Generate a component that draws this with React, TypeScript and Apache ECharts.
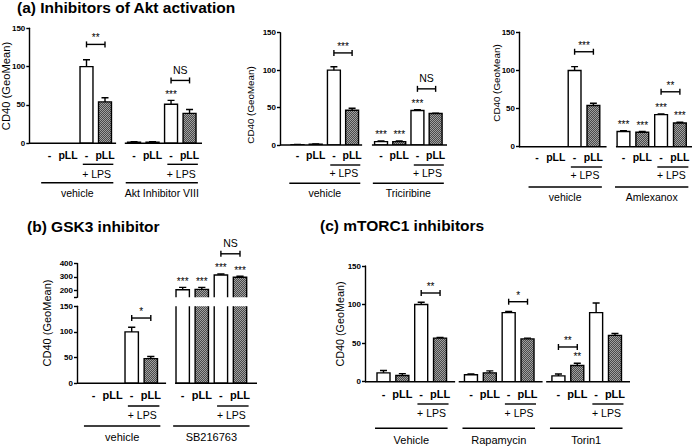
import React, { useEffect, useRef } from 'react';
import * as echarts from 'echarts';

const FONT = '"Liberation Sans", Arial, Helvetica, sans-serif';

// ---------------- shared labels ----------------
const conditionLabels = ['-', 'pLL', '-', 'pLL'];
const hatchedFlags = [0, 1, 0, 1];
const lpsLabel = '+ LPS';
const yAxisName = 'CD40 (GeoMean)';
const panelTitles = ['(a) Inhibitors of Akt activation', '(b) GSK3 inhibitor', '(c) mTORC1 inhibitors'];
const ticks150 = [0, 50, 100, 150];
const gskUpperTicks = [200, 300, 400];
const gskUpperTickMarks = [150, 200, 300, 400];

// ---------------- (a) Akt Inhibitor VIII ----------------
const aktGroups = ['vehicle', 'Akt Inhibitor VIII'];
const aktMeans = [[0, 0, 100, 54], [1.5, 1.5, 51, 39]];
const aktErrors = [[0, 0, 9, 5.5], [0.5, 0.5, 5, 5]];
const aktBrackets = [
  { group: 0, from: 2, to: 3, level: 129, label: '**' },
  { group: 1, from: 2, to: 3, level: 82, label: 'NS' },
];
const aktStars = [{ group: 1, bar: 2, label: '***' }];

// ---------------- (a) Triciribine ----------------
const triGroups = ['vehicle', 'Triciribine'];
const triMeans = [[0.5, 1, 100, 46.5], [4.5, 4.5, 46, 42]];
const triErrors = [[0.3, 0.3, 4.5, 2.5], [1, 1, 1, 0.5]];
const triBrackets = [
  { group: 0, from: 2, to: 3, level: 123, label: '***' },
  { group: 1, from: 2, to: 3, level: 75, label: 'NS' },
];
const triStars = [
  { group: 1, bar: 0, label: '***' },
  { group: 1, bar: 1, label: '***' },
  { group: 1, bar: 2, label: '***' },
];

// ---------------- (a) Amlexanox ----------------
const amlGroups = ['vehicle', 'Amlexanox'];
const amlMeans = [[0, 0, 100, 54], [20, 19, 42, 31]];
const amlErrors = [[0, 0, 5, 3], [1, 1, 1, 1]];
const amlBrackets = [
  { group: 0, from: 2, to: 3, level: 124.5, label: '***' },
  { group: 1, from: 2, to: 3, level: 72, label: '**' },
];
const amlStars = [
  { group: 1, bar: 0, label: '***' },
  { group: 1, bar: 1, label: '***' },
  { group: 1, bar: 2, label: '***' },
  { group: 1, bar: 3, label: '***' },
];

// ---------------- (b) GSK3 inhibitor ----------------
const gskGroups = ['vehicle', 'SB216763'];
const gskMeans = [[0, 0, 100, 48], [205, 208, 315, 298]];
const gskErrors = [[0, 0, 9, 4], [18, 15, 7, 7]];
const gskBrackets = [
  { group: 0, from: 2, to: 3, level: 127, label: '*' },
  { group: 1, from: 2, to: 3, level: 472, label: 'NS' },
];
const gskStars = [
  { group: 1, bar: 0, label: '***' },
  { group: 1, bar: 1, label: '***' },
  { group: 1, bar: 2, label: '***' },
  { group: 1, bar: 3, label: '***' },
];

// ---------------- (c) mTORC1 inhibitors ----------------
const mtorGroups = ['Vehicle', 'Rapamycin', 'Torin1'];
const mtorMeans = [[11.5, 8, 100, 56.5], [9, 11.5, 89.5, 55.5], [7.5, 21, 89.5, 60]];
const mtorErrors = [[3, 2.5, 3, 1], [1, 2.5, 1.5, 1], [2.5, 3, 12.5, 2.5]];
const mtorBrackets = [
  { group: 0, from: 2, to: 3, level: 115, label: '**' },
  { group: 1, from: 2, to: 3, level: 103.7, label: '*' },
  { group: 2, from: 0, to: 1, level: 45, label: '**' },
];
const mtorStars = [{ group: 2, bar: 1, label: '**' }];

// ---------------- layout (positions only) ----------------
type Layout = {
  left: number; right: number; top: number; bottom: number;
  firstBar: number; slot: number; groupStep: number; barW: number;
  segPad: [number, number]; groupPad: [number, number];
  dy: number[]; condFont: number; lpsFont: number; groupFont: number; tickFont: number;
  upper?: { top: number; bottom: number; min: number };
};

const layA1: Layout = { left: 29.3, right: 202, top: 28.3, bottom: 143.3, firstBar: 49.5, slot: 18.5, groupStep: 4.57, barW: 0.7, segPad: [0.5, 0.6], groupPad: [0.45, 0.45], dy: [11.7, 21, 30.7, 39.4, 50], condFont: 10.5, lpsFont: 10.5, groupFont: 10.5, tickFont: 8 };
const layA2: Layout = { left: 280, right: 447, top: 32.7, bottom: 145, firstBar: 297.5, slot: 18.2, groupStep: 4.59, barW: 0.71, segPad: [0.5, 0.55], groupPad: [0.45, 0.45], dy: [10, 20, 28.3, 38.3, 48.3], condFont: 10.5, lpsFont: 10.5, groupFont: 10.5, tickFont: 8 };
const layA3: Layout = { left: 519, right: 692, top: 32.3, bottom: 146.7, firstBar: 537, slot: 18.8, groupStep: 4.6, barW: 0.68, segPad: [0.4, 0.7], groupPad: [0.45, 0.45], dy: [10.3, 20.3, 28.3, 40.3, 50.3], condFont: 10.5, lpsFont: 10.5, groupFont: 10.5, tickFont: 8 };
const layB: Layout = { left: 77, right: 257, top: 306.2, bottom: 383.3, firstBar: 93.5, slot: 19.1, groupStep: 4.67, barW: 0.7, segPad: [0.4, 0.8], groupPad: [0.5, 0.5], dy: [11.7, 22.7, 31.7, 42.7, 53.7], condFont: 11, lpsFont: 10.5, groupFont: 11, tickFont: 8, upper: { top: 263.5, bottom: 297.2, min: 150 } };
const layC: Layout = { left: 365, right: 630, top: 266, bottom: 381.7, firstBar: 383.5, slot: 18.85, groupStep: 4.64, barW: 0.69, segPad: [0.65, 0.8], groupPad: [0.45, 0.4], dy: [12.6, 22.3, 31.6, 46.6, 57.8], condFont: 11, lpsFont: 10.5, groupFont: 11, tickFont: 8 };

type PanelData = {
  groups: string[]; means: number[][]; errors: number[][];
  brackets: { group: number; from: number; to: number; level: number; label: string }[];
  stars: { group: number; bar: number; label: string }[];
  ticks: number[]; upperTicks?: number[]; upperTickMarks?: number[];
};

const LW = 1.4;

function barRender(bars: any[], barW: number, pattern: any) {
  return (params: any, api: any) => {
    const b = bars[params.dataIndex];
    if (!b.mean) return { type: 'group', children: [] };
    const top = api.coord([b.x, b.mean]);
    const base = api.coord([b.x, 0]);
    const w = api.size([barW, 0], [b.x, 0])[0];
    const children: any[] = [
      {
        type: 'rect',
        shape: { x: top[0] - w / 2, y: top[1], width: w, height: base[1] - top[1] },
        style: { fill: b.hatched ? pattern : '#ffffff', stroke: '#000', lineWidth: LW },
      },
    ];
    if (b.err > 0) {
      const et = api.coord([b.x, b.mean + b.err]);
      children.push({ type: 'line', shape: { x1: top[0], y1: top[1], x2: et[0], y2: et[1] }, style: { stroke: '#000', lineWidth: LW } });
      children.push({ type: 'line', shape: { x1: et[0] - w * 0.27, y1: et[1], x2: et[0] + w * 0.27, y2: et[1] }, style: { stroke: '#000', lineWidth: LW } });
    }
    return { type: 'group', children };
  };
}

function textEl(text: string, x: number, y: number, size: number, bold = false) {
  return {
    type: 'text',
    style: { text, x, y, fill: '#000', fontSize: size, fontWeight: bold ? 'bold' : 'normal', fontFamily: FONT, align: 'center', verticalAlign: 'middle' },
  };
}

function annRender(items: any[]) {
  return (params: any, api: any) => {
    const a = items[params.dataIndex];
    const st = { stroke: '#000', lineWidth: LW };
    if (a.kind === 'hline') {
      const p1 = api.coord([a.x1, a.v]);
      const p2 = api.coord([a.x2, a.v]);
      return { type: 'line', shape: { x1: p1[0], y1: p1[1] + a.dy, x2: p2[0], y2: p2[1] + a.dy }, style: st };
    }
    if (a.kind === 'text') {
      const p = api.coord([a.x, a.v]);
      return textEl(a.text, p[0], p[1] + a.dy, a.size, a.bold);
    }
    if (a.kind === 'bracket') {
      const p1 = api.coord([a.x1, a.v]);
      const p2 = api.coord([a.x2, a.v]);
      const star = a.text.indexOf('*') >= 0;
      return {
        type: 'group',
        children: [
          { type: 'line', shape: { x1: p1[0], y1: p1[1], x2: p2[0], y2: p2[1] }, style: st },
          { type: 'line', shape: { x1: p1[0], y1: p1[1] - 3, x2: p1[0], y2: p1[1] + 3 }, style: st },
          { type: 'line', shape: { x1: p2[0], y1: p2[1] - 3, x2: p2[0], y2: p2[1] + 3 }, style: st },
          textEl(a.text, (p1[0] + p2[0]) / 2, p1[1] - (star ? 6.5 : 10.7), star ? 10 : 10.5),
        ],
      };
    }
    // star above a bar
    const p = api.coord([a.x, a.v]);
    return textEl(a.text, p[0], p[1] - 6.3, 10);
  };
}

function addPanel(opt: any, data: PanelData, lay: Layout, pattern: any) {
  const xMin = (lay.left - lay.firstBar) / lay.slot;
  const xMax = (lay.right - lay.firstBar) / lay.slot;
  const xOf = (g: number, i: number) => g * lay.groupStep + i;
  const lt = data.ticks;
  const specs: any[] = [
    { top: lay.top, bottom: lay.bottom, min: lt[0], max: lt[lt.length - 1], interval: lt[1] - lt[0] },
  ];
  if (lay.upper && data.upperTicks) {
    const ut = data.upperTicks;
    specs.push({ top: lay.upper.top, bottom: lay.upper.bottom, min: lay.upper.min, max: ut[ut.length - 1], custom: ut, customTicks: data.upperTickMarks || ut });
  }
  const lowerMax = lt[lt.length - 1];
  const gridIdx = specs.map((s) => {
    const idx = opt.grid.length;
    opt.grid.push({ left: lay.left, top: s.top, width: lay.right - lay.left, height: s.bottom - s.top });
    opt.xAxis.push({ gridIndex: idx, type: 'value', min: xMin, max: xMax, show: false });
    const y: any = {
      gridIndex: idx, type: 'value', min: s.min, max: s.max,
      axisLine: { show: true, onZero: false, lineStyle: { color: '#000', width: LW } },
      axisTick: { show: true, length: 3, lineStyle: { color: '#000', width: LW } },
      axisLabel: { color: '#000', fontWeight: 'bold', fontSize: lay.tickFont, fontFamily: FONT, margin: 4 },
      splitLine: { show: false },
    };
    if (s.custom) {
      y.axisTick.customValues = s.customTicks;
      y.axisLabel.customValues = s.custom;
    } else {
      y.interval = s.interval;
    }
    opt.yAxis.push(y);
    return idx;
  });

  const bars: any[] = [];
  data.means.forEach((row, g) => row.forEach((m, i) => {
    bars.push({ x: xOf(g, i), mean: m, err: data.errors[g][i], hatched: hatchedFlags[i] });
  }));
  gridIdx.forEach((gi) => {
    opt.series.push({
      type: 'custom', xAxisIndex: gi, yAxisIndex: gi, clip: true, silent: true,
      lineStyle: { width: 0.01 },
      data: bars.map((b) => [b.x, b.mean]),
      renderItem: barRender(bars, lay.barW, pattern),
    });
  });

  const lower: any[] = [];
  const upper: any[] = [];
  const route = (v: number) => (gridIdx.length > 1 && v > lowerMax ? upper : lower);
  const nG = data.groups.length;
  data.groups.forEach((name, g) => {
    const x1 = g === 0 ? xMin : xOf(g, 0) - lay.segPad[0];
    const x2 = g === nG - 1 ? xMax : xOf(g, 3) + lay.segPad[1];
    lower.push({ kind: 'hline', x1, x2, v: 0, dy: 0 });
    conditionLabels.forEach((c, i) => lower.push({ kind: 'text', x: xOf(g, i), v: 0, dy: lay.dy[0], text: c, size: lay.condFont, bold: true }));
    lower.push({ kind: 'hline', x1: xOf(g, 2) - 0.2, x2: xOf(g, 3) + 0.45, v: 0, dy: lay.dy[1] });
    lower.push({ kind: 'text', x: (xOf(g, 2) + xOf(g, 3)) / 2 + 0.05, v: 0, dy: lay.dy[2], text: lpsLabel, size: lay.lpsFont });
    const gl1 = xOf(g, 0) - lay.groupPad[0];
    const gl2 = xOf(g, 3) + lay.groupPad[1];
    lower.push({ kind: 'hline', x1: gl1, x2: gl2, v: 0, dy: lay.dy[3] });
    lower.push({ kind: 'text', x: (gl1 + gl2) / 2, v: 0, dy: lay.dy[4], text: name, size: lay.groupFont });
  });
  data.brackets.forEach((b) => {
    route(b.level).push({ kind: 'bracket', x1: xOf(b.group, b.from), x2: xOf(b.group, b.to), v: b.level, text: b.label });
  });
  data.stars.forEach((s) => {
    const v = data.means[s.group][s.bar] + data.errors[s.group][s.bar];
    route(v).push({ kind: 'star', x: xOf(s.group, s.bar), v, text: s.label });
  });
  [lower, upper].forEach((items, k) => {
    if (!items.length) return;
    const gi = gridIdx[k];
    opt.series.push({
      type: 'custom', xAxisIndex: gi, yAxisIndex: gi, clip: false, silent: true,
      data: items.map((a) => [a.x !== undefined ? a.x : a.x1, a.v]),
      renderItem: annRender(items),
    });
  });
}

function makePattern() {
  const c = document.createElement('canvas');
  c.width = 2;
  c.height = 2;
  const ctx = c.getContext('2d');
  if (ctx) {
    ctx.fillStyle = '#4a4a4a';
    ctx.fillRect(0, 0, 2, 2);
    ctx.fillStyle = '#a0a0a0';
    ctx.fillRect(0, 0, 1, 1);
    ctx.fillRect(1, 1, 1, 1);
  }
  return { image: c, repeat: 'repeat', imageWidth: 2, imageHeight: 2 };
}

function buildOption(pattern: any) {
  const opt: any = { animation: false, backgroundColor: '#ffffff', grid: [], xAxis: [], yAxis: [], series: [] };
  addPanel(opt, { groups: aktGroups, means: aktMeans, errors: aktErrors, brackets: aktBrackets, stars: aktStars, ticks: ticks150 }, layA1, pattern);
  addPanel(opt, { groups: triGroups, means: triMeans, errors: triErrors, brackets: triBrackets, stars: triStars, ticks: ticks150 }, layA2, pattern);
  addPanel(opt, { groups: amlGroups, means: amlMeans, errors: amlErrors, brackets: amlBrackets, stars: amlStars, ticks: ticks150 }, layA3, pattern);
  addPanel(opt, { groups: gskGroups, means: gskMeans, errors: gskErrors, brackets: gskBrackets, stars: gskStars, ticks: ticks150, upperTicks: gskUpperTicks, upperTickMarks: gskUpperTickMarks }, layB, pattern);
  addPanel(opt, { groups: mtorGroups, means: mtorMeans, errors: mtorErrors, brackets: mtorBrackets, stars: mtorStars, ticks: ticks150 }, layC, pattern);

  const title = (text: string, x: number, y: number) => ({
    type: 'text', x, y, silent: true,
    style: { text, fill: '#000', fontSize: 15.5, fontWeight: 'bold', fontFamily: FONT, align: 'left', verticalAlign: 'middle' },
  });
  const yName = (x: number, y: number, size: number) => ({
    type: 'text', x, y, rotation: Math.PI / 2, silent: true,
    style: { text: yAxisName, fill: '#000', fontSize: size, fontFamily: FONT, align: 'center', verticalAlign: 'middle' },
  });
  opt.graphic = [
    title(panelTitles[0], 17, 7.5),
    title(panelTitles[1], 27, 226.5),
    title(panelTitles[2], 320, 225.5),
    yName(6, 86, 11.2),
    yName(250, 105, 9.8),
    yName(496, 83, 9.8),
    yName(46.7, 323, 11),
    yName(340, 324, 10.8),
  ];
  return opt;
}

export default function App() {
  const ref = useRef<HTMLDivElement>(null);
  useEffect(() => {
    if (!ref.current) return;
    const chart = echarts.init(ref.current, undefined, { renderer: 'svg' });
    chart.setOption(buildOption(makePattern()));
    return () => chart.dispose();
  }, []);
  return (
    <div
      ref={ref}
      style={{ position: 'fixed', left: 0, top: 0, width: 696, height: 446, background: '#fff' }}
    />
  );
}
